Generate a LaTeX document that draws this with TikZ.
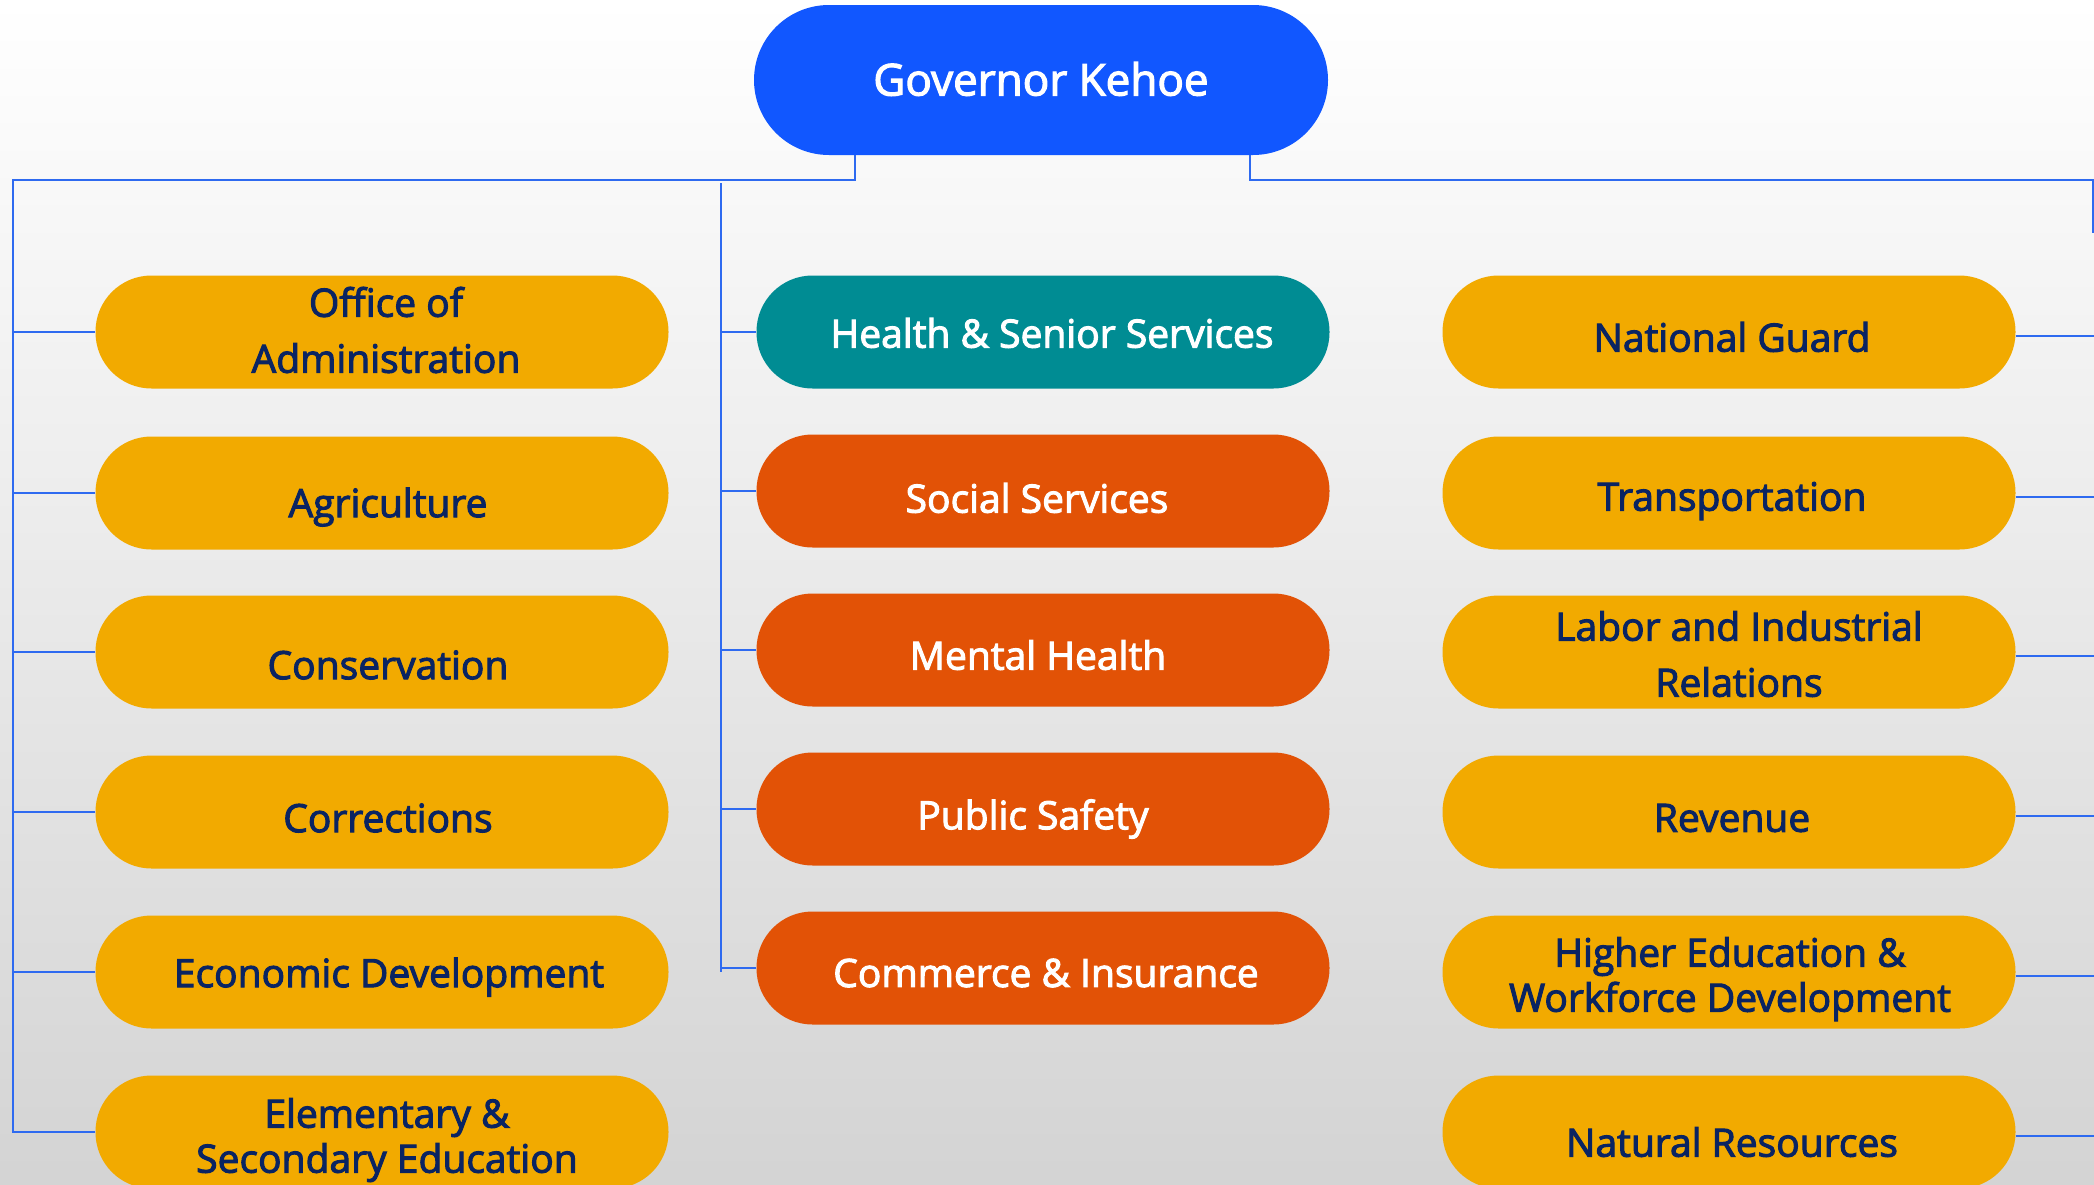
\documentclass[tikz,border=0pt]{standalone}
\usepackage{fontspec}
\setmainfont{Open Sans}[BoldFont={Open Sans},BoldFeatures={FakeBold=2.6}]
\definecolor{govblue}{HTML}{1157FF}
\definecolor{teal}{HTML}{008C93}
\definecolor{orng}{HTML}{E25206}
\definecolor{yel}{HTML}{F2AA00}
\definecolor{navy}{HTML}{0A2462}
\definecolor{lineblue}{HTML}{2E6AF0}
\begin{document}
\begin{tikzpicture}[x=1pt,y=-1pt,
  pill/.style={rounded corners=56pt,minimum width=573pt,minimum height=113pt,inner sep=0pt,draw=none},
  ybox/.style={pill,fill=yel},
  tbox/.style={pill,fill=teal},
  obox/.style={pill,fill=orng},
  dtext/.style={font=\bfseries\fontsize{39}{56}\selectfont,text=navy,align=center,inner sep=0pt},
  dtextb/.style={dtext,font=\bfseries\fontsize{39}{45}\selectfont},
  wtext/.style={dtext,text=white},
  conn/.style={draw=lineblue,line width=1.8pt}]
\useasboundingbox (0,0) rectangle (2094,1184);
\clip (0,0) rectangle (2094,1184);
\shade[top color=white,middle color={black!4},bottom color={black!17}] (0,0) rectangle (2094,1184);

% governor
\node[pill,fill=govblue,minimum width=574pt,minimum height=150pt,rounded corners=75pt] (gov) at (1041,80) {};
\node[wtext,font=\bfseries\fontsize{44}{50}\selectfont] (govT) at (1041,79) {Governor Kehoe};

% left column
\node[ybox] (oa) at (382,332) {};
\node[ybox] (ag) at (382,493) {};
\node[ybox] (co) at (382,652) {};
\node[ybox] (cr) at (382,812) {};
\node[ybox] (ed) at (382,972) {};
\node[ybox] (el) at (382,1132) {};
\path (oa) ++(4,-2) node[dtext] (oaT) {Office of\\Administration};
\path (ag) ++(6,14) node[dtext] (agT) {Agriculture};
\path (co) ++(6,13) node[dtext] (coT) {Conservation};
\path (cr) ++(6,6) node[dtext] (crT) {Corrections};
\path (ed) ++(7,5) node[dtext] (edT) {Economic Development};
\path (el) ++(5,8) node[dtextb] (elT) {Elementary \&\\Secondary Education};

% middle column
\node[tbox] (hs) at (1043,332) {};
\node[obox] (ss) at (1043,491) {};
\node[obox] (mh) at (1043,650) {};
\node[obox] (ps) at (1043,809) {};
\node[obox] (ci) at (1043,968) {};
\path (hs) ++(9,1) node[wtext] (hsT) {Health \& Senior Services};
\path (ss) ++(-6,7) node[wtext] (ssT) {Social Services};
\path (mh) ++(-5,5) node[wtext] (mhT) {Mental Health};
\path (ps) ++(-10,10) node[wtext] (psT) {Public Safety};
\path (ci) ++(3,5) node[wtext] (ciT) {Commerce \& Insurance};

% right column
\node[ybox] (ng) at (1729,332) {};
\node[ybox] (tr) at (1729,493) {};
\node[ybox] (lr) at (1729,652) {};
\node[ybox] (rv) at (1729,812) {};
\node[ybox] (he) at (1729,972) {};
\node[ybox] (nr) at (1729,1132) {};
\path (ng) ++(3,5) node[dtext] (ngT) {National Guard};
\path (tr) ++(3,8) node[dtext] (trT) {Transportation};
\path (lr) ++(10,2) node[dtext] (lrT) {Labor and Industrial\\Relations};
\path (rv) ++(3,6) node[dtext] (rvT) {Revenue};
\path (he) ++(1,7) node[dtextb] (heT) {Higher Education \&\\Workforce Development};
\path (nr) ++(3,10) node[dtext] (nrT) {Natural Resources};

% connector points
\coordinate (lt) at (13,180);
\coordinate (lb) at (13,1133);
\coordinate (mt) at (721,183);
\coordinate (mb) at (721,972);
\coordinate (rt) at (2093,180);
\coordinate (rb) at (2093,233);
\coordinate (redge) at (2100,0);

\draw[conn] ([xshift=101pt]gov.south west) |- (lt) -- (lb);
\draw[conn] ([xshift=-78pt]gov.south east) |- (rt) -- (rb);
\draw[conn] (mt) -- (mb);

\foreach \n in {oa,ag,co,cr,ed,el} \draw[conn] (\n.west) -- (\n.west -| lt);
\foreach \n in {hs,ss,mh,ps,ci} \draw[conn] (\n.west) -- (\n.west -| mt);
\foreach \n in {ng,tr,lr,rv,he,nr} \draw[conn] ([yshift=-4pt]\n.east) -- ([yshift=-4pt]\n.east -| redge);
\end{tikzpicture}
\end{document}
